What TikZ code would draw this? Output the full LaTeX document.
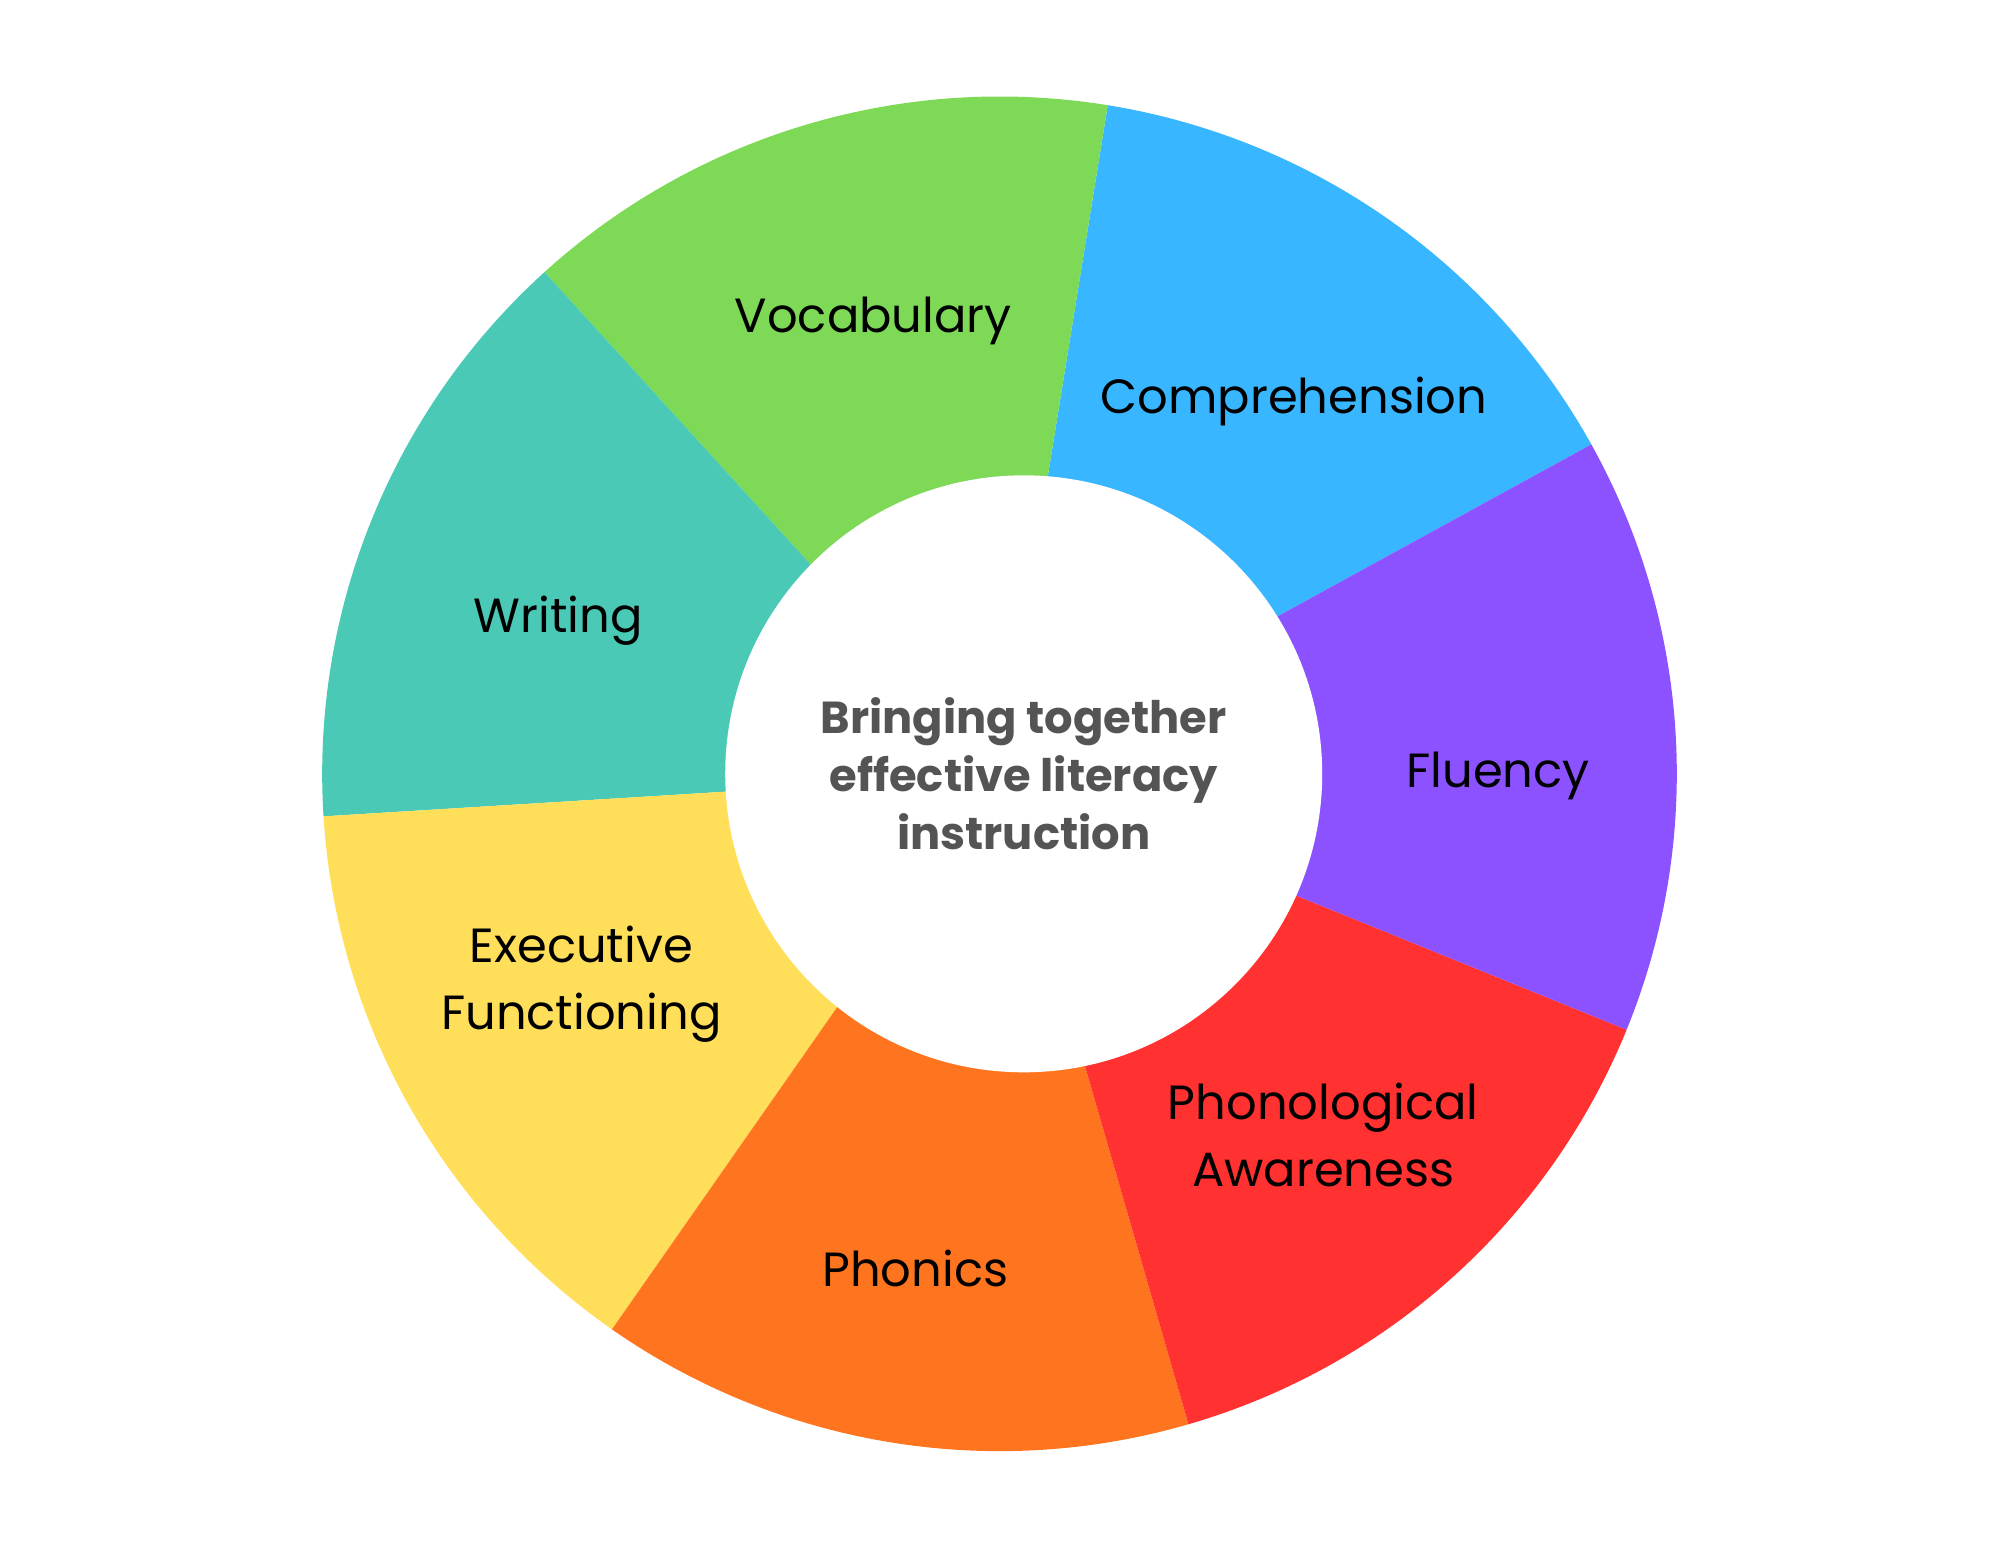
\documentclass[tikz,border=0pt]{standalone}
\usepackage{fontspec}
\setmainfont{Poppins}
\definecolor{cgreen}{HTML}{7ED957}
\definecolor{cblue}{HTML}{38B6FF}
\definecolor{cpurple}{HTML}{8C52FF}
\definecolor{cred}{HTML}{FF3131}
\definecolor{corange}{HTML}{FF751F}
\definecolor{cyellow}{HTML}{FFDE59}
\definecolor{cteal}{HTML}{4AC9B6}
\definecolor{cgrey}{HTML}{545454}
\begin{document}
\begin{tikzpicture}[x=0.01cm,y=0.01cm,
  lab/.style={font=\fontsize{10.7}{15}\selectfont,align=center,text=black}]
\useasboundingbox (0,0) rectangle (1568,1212);
\coordinate (O) at (784,605);
\coordinate (C) at (803,605);
\coordinate (iVC) at (822,839);
\coordinate (iCF) at (1003,729);
\coordinate (iFP) at (1018,509);
\coordinate (iPP) at (851,376);
\coordinate (iPE) at (656,421);
\coordinate (iEW) at (569,591);
\coordinate (iWV) at (636,769);
\newcommand\mywedge[5]{%
  \fill[#1] (#2) -- ([shift={(O)}]#4:5.31cm) arc[start angle=#4,end angle=#5,radius=5.31cm] -- (#3) -- (C) -- cycle;}
\mywedge{cblue}{iCF}{iVC}{29.1}{80.8}
\mywedge{cgreen}{iVC}{iWV}{80.8}{132.2}
\mywedge{cteal}{iWV}{iEW}{132.2}{183.6}
\mywedge{cyellow}{iEW}{iPE}{183.6}{235.1}
\mywedge{corange}{iPE}{iPP}{235.1}{286.2}
\mywedge{cred}{iPP}{iFP}{286.2}{337.8}
\mywedge{cpurple}{iFP}{iCF}{-22.2}{29.1}
\fill[white] (C) circle[radius=2.34cm];
\node[lab] (voc) at (685,960) {Vocabulary};
\node[lab] (com) at (1015,897) {Comprehension};
\node[lab] (flu) at (1175,603) {Fluency};
\node[lab] (pho) at (1038,322) {Phonological\\Awareness};
\node[lab] (phn) at (718,217) {Phonics};
\node[lab] (exe) at (456,440) {Executive\\Functioning};
\node[lab] (wri) at (438,725) {Writing};
\node[font=\bfseries\fontsize{10}{13}\selectfont,align=center,text=cgrey] (ctr) at (803,605) {Bringing together\\effective literacy\\instruction};
\end{tikzpicture}
\end{document}
